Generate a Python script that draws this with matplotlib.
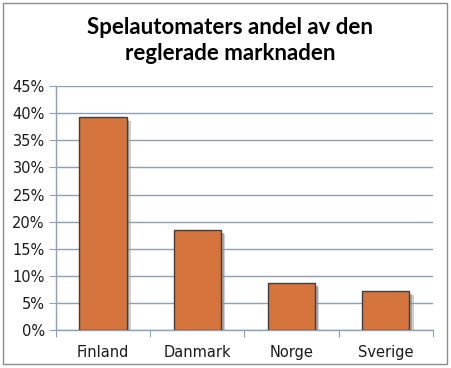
import numpy as np
import matplotlib.pyplot as plt
import matplotlib.patheffects as pe
from matplotlib.patches import Rectangle
from matplotlib.ticker import FuncFormatter, MultipleLocator

plt.rcParams['font.family'] = ['DejaVu Sans']

countries = ['Finland', 'Danmark', 'Norge', 'Sverige']
shares = [0.393, 0.185, 0.087, 0.072]

fig = plt.figure(figsize=(4.51, 3.68), dpi=100)
fig.patch.set_facecolor('white')
# chart border
fig.patches.append(Rectangle((0.007, 0.01), 0.985, 0.982, transform=fig.transFigure,
                             fill=False, edgecolor='#8c8c8c', linewidth=1))

ax = fig.add_axes([0.124, 0.103, 0.836, 0.663])
x = np.arange(len(countries))
bars = ax.bar(x, shares, width=0.5, color='#D5743C', edgecolor='#3f3f3f',
              linewidth=1, zorder=3)
for b in bars:
    b.set_path_effects([pe.SimplePatchShadow(offset=(3, -3), shadow_rgbFace='#a0a0a0', alpha=0.5),
                        pe.SimplePatchShadow(offset=(2, -2), shadow_rgbFace='#808080', alpha=0.5),
                        pe.Normal()])

ax.set_ylim(0, 0.45)
ax.set_xlim(-0.5, 3.5)
ax.yaxis.set_major_locator(MultipleLocator(0.05))
ax.yaxis.set_major_formatter(FuncFormatter(lambda v, p: '%d%%' % round(v * 100)))
ax.grid(axis='y', color='#8EA0B4', linewidth=1, zorder=0)
ax.set_axisbelow(True)

for s in ['top', 'right']:
    ax.spines[s].set_visible(False)
for s in ['left', 'bottom']:
    ax.spines[s].set_color('#8EA0B4')
    ax.spines[s].set_linewidth(1)

ax.set_xticks(np.arange(-0.5, 4, 1))
ax.set_xticklabels([])
ax.set_xticks(x, minor=True)
ax.set_xticklabels(countries, minor=True, fontsize=10.5, color='#1a1a1a')
ax.tick_params(axis='x', which='minor', length=0, pad=11)
ax.tick_params(axis='x', which='major', length=5, color='#8EA0B4', direction='out')
ax.tick_params(axis='y', length=5, color='#8EA0B4', labelsize=10.5, labelcolor='#1a1a1a', pad=3)

fig.text(0.51, 0.89, 'Spelautomaters andel av den\nreglerade marknaden',
         ha='center', va='center', fontsize=16, fontweight='bold',
         family=['Lato', 'DejaVu Sans'], linespacing=1.35)

fig.savefig('out.png', dpi=100)
